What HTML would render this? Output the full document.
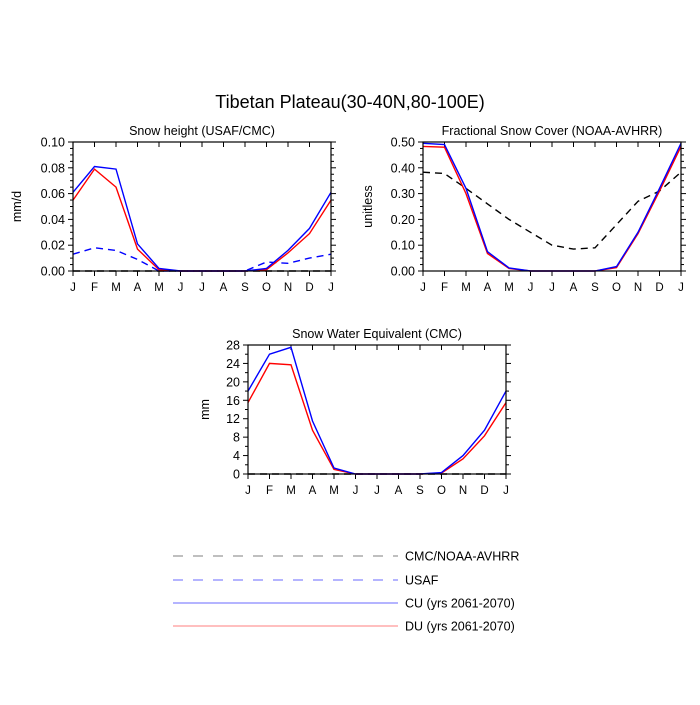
<!DOCTYPE html>
<html><head><meta charset="utf-8"><style>
body{margin:0;background:#fff;}
svg text{font-family:"Liberation Sans",sans-serif;fill:#000;}
</style></head><body>
<svg id="s" width="700" height="700" xmlns="http://www.w3.org/2000/svg">
<text x="350" y="108" font-size="18" text-anchor="middle">Tibetan Plateau(30-40N,80-100E)</text>
</svg>
<script>
var s=document.getElementById('s'),NS='http://www.w3.org/2000/svg';
function el(t,a,txt){var e=document.createElementNS(NS,t);for(var k in a)e.setAttribute(k,a[k]);if(txt!==undefined)e.textContent=txt;s.appendChild(e);return e;}
var M=['J','F','M','A','M','J','J','A','S','O','N','D','J'];
function panel(x0,y0,w,h,ymax,ystep,minor,fmt,title,ylab,yoff,series){
  var X=function(i){return x0+i*w/12},Y=function(v){return y0+h-v/ymax*h};
  el('text',{x:x0+w/2,y:y0-7,'font-size':12.5,'text-anchor':'middle'},title);
  el('text',{x:0,y:0,'font-size':12.5,'text-anchor':'middle',transform:'translate('+(x0-yoff)+','+(y0+h/2)+') rotate(-90)'},ylab);
  for(var i=0;i<=12;i++){var x=X(i);
    el('line',{x1:x,y1:y0+h,x2:x,y2:y0+h+5,stroke:'#000'});
    el('line',{x1:x,y1:y0,x2:x,y2:y0+5,stroke:'#000'});
    el('text',{x:x,y:y0+h+20,'font-size':11.5,'text-anchor':'middle'},M[i]);}
  var n=Math.round(ymax/minor);
  for(var j=0;j<=n;j++){var v=j*minor,y=Y(v),maj=Math.abs(v/ystep-Math.round(v/ystep))<1e-6,L=maj?5:3;
    el('line',{x1:x0-L,y1:y,x2:x0,y2:y,stroke:'#000'});
    el('line',{x1:x0+w,y1:y,x2:x0+w+L,y2:y,stroke:'#000'});
    if(maj)el('text',{x:x0-8,y:y+4.5,'font-size':12.5,'text-anchor':'end'},fmt(v));}
  series.forEach(function(sr){var p=sr.d.map(function(v,i){return X(i).toFixed(1)+','+Y(v).toFixed(1)}).join(' ');
    var a={points:p,fill:'none',stroke:sr.c,'stroke-width':1.4};if(sr.dash)a['stroke-dasharray']='7,5';el('polyline',a);});
  el('rect',{x:x0,y:y0,width:w,height:h,fill:'none',stroke:'#000','stroke-width':1.2});
}
var z=[0,0,0,0,0,0,0,0,0,0,0,0,0];
panel(73,142,258,129,0.10,0.02,0.005,function(v){return v.toFixed(2)},'Snow height (USAF/CMC)','mm/d',52,[
 {d:z,c:'#000',dash:1},
 {d:[.013,.018,.016,.009,0,0,0,0,0,.007,.006,.010,.013],c:'#00f',dash:1},
 {d:[.055,.079,.065,.017,.001,0,0,0,0,.001,.014,.029,.055],c:'#f00'},
 {d:[.061,.081,.079,.021,.002,0,0,0,0,.002,.016,.033,.061],c:'#00f'}]);
panel(423,142,258,129,0.5,0.1,0.025,function(v){return v.toFixed(2)},'Fractional Snow Cover (NOAA-AVHRR)','unitless',51,[
 {d:[.383,.378,.32,.26,.2,.15,.10,.085,.09,.18,.27,.31,.383],c:'#000',dash:1},
 {d:[.483,.48,.30,.068,.01,0,0,0,0,.013,.145,.31,.483],c:'#f00'},
 {d:[.495,.49,.32,.075,.012,0,0,0,0,.017,.15,.32,.495],c:'#00f'}]);
panel(248,345,258,129,28,4,2,function(v){return ''+Math.round(v)},'Snow Water Equivalent (CMC)','mm',39,[
 {d:z,c:'#000',dash:1},
 {d:[15.5,24,23.7,9.5,1,0,0,0,0,.2,3.3,8.3,15.5],c:'#f00'},
 {d:[18,26,27.5,11.5,1.3,0,0,0,0,.3,4,9.5,18],c:'#00f'}]);
var L=[['CMC/NOAA-AVHRR','#999',1,556],['USAF','#88f',1,580],['CU (yrs 2061-2070)','#88f',0,603],['DU (yrs 2061-2070)','#f99',0,626]];
L.forEach(function(l){var a={x1:173,y1:l[3],x2:398,y2:l[3],stroke:l[1],'stroke-width':1.2};if(l[2])a['stroke-dasharray']='10,10';el('line',a);
 el('text',{x:405,y:l[3]+4.5,'font-size':12.5},l[0]);});
</script>
</body></html>
